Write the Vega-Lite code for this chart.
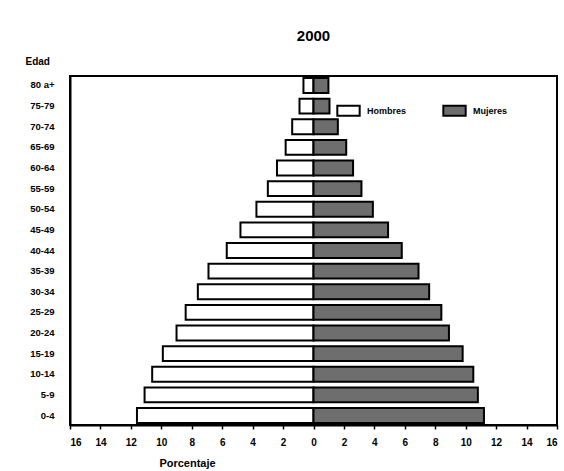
{
  "$schema": "https://vega.github.io/schema/vega-lite/v6.json",
  "autosize": "none",
  "width": 487,
  "height": 349,
  "padding": {"left": 70, "top": 76, "right": 7, "bottom": 46},
  "background": "white",
  "title": {"text": "2000", "font": "Liberation Sans", "fontSize": 15, "fontWeight": "bold", "color": "black", "anchor": "middle", "offset": 12},
  "config": {
    "view": {"stroke": "black", "strokeWidth": 2},
    "font": "Liberation Sans"
  },
  "data": {"values": [
    {"edad": "80 a+", "sexo": "Hombres", "pct": -0.66},
    {"edad": "75-79", "sexo": "Hombres", "pct": -0.92},
    {"edad": "70-74", "sexo": "Hombres", "pct": -1.4},
    {"edad": "65-69", "sexo": "Hombres", "pct": -1.83},
    {"edad": "60-64", "sexo": "Hombres", "pct": -2.4},
    {"edad": "55-59", "sexo": "Hombres", "pct": -3.0},
    {"edad": "50-54", "sexo": "Hombres", "pct": -3.75},
    {"edad": "45-49", "sexo": "Hombres", "pct": -4.8},
    {"edad": "40-44", "sexo": "Hombres", "pct": -5.7},
    {"edad": "35-39", "sexo": "Hombres", "pct": -6.9},
    {"edad": "30-34", "sexo": "Hombres", "pct": -7.6},
    {"edad": "25-29", "sexo": "Hombres", "pct": -8.4},
    {"edad": "20-24", "sexo": "Hombres", "pct": -9.0},
    {"edad": "15-19", "sexo": "Hombres", "pct": -9.9},
    {"edad": "10-14", "sexo": "Hombres", "pct": -10.6},
    {"edad": "5-9", "sexo": "Hombres", "pct": -11.1},
    {"edad": "0-4", "sexo": "Hombres", "pct": -11.6},
    {"edad": "80 a+", "sexo": "Mujeres", "pct": 0.98},
    {"edad": "75-79", "sexo": "Mujeres", "pct": 1.05},
    {"edad": "70-74", "sexo": "Mujeres", "pct": 1.6},
    {"edad": "65-69", "sexo": "Mujeres", "pct": 2.15},
    {"edad": "60-64", "sexo": "Mujeres", "pct": 2.6},
    {"edad": "55-59", "sexo": "Mujeres", "pct": 3.15},
    {"edad": "50-54", "sexo": "Mujeres", "pct": 3.9},
    {"edad": "45-49", "sexo": "Mujeres", "pct": 4.9},
    {"edad": "40-44", "sexo": "Mujeres", "pct": 5.8},
    {"edad": "35-39", "sexo": "Mujeres", "pct": 6.9},
    {"edad": "30-34", "sexo": "Mujeres", "pct": 7.6},
    {"edad": "25-29", "sexo": "Mujeres", "pct": 8.4},
    {"edad": "20-24", "sexo": "Mujeres", "pct": 8.9},
    {"edad": "15-19", "sexo": "Mujeres", "pct": 9.8},
    {"edad": "10-14", "sexo": "Mujeres", "pct": 10.5},
    {"edad": "5-9", "sexo": "Mujeres", "pct": 10.8},
    {"edad": "0-4", "sexo": "Mujeres", "pct": 11.2}
  ]},
  "mark": {"type": "bar", "stroke": "black", "strokeWidth": 2},
  "encoding": {
    "y": {
      "field": "edad", "type": "nominal",
      "sort": ["80 a+", "75-79", "70-74", "65-69", "60-64", "55-59", "50-54", "45-49", "40-44", "35-39", "30-34", "25-29", "20-24", "15-19", "10-14", "5-9", "0-4"],
      "scale": {"paddingInner": 0.28, "paddingOuter": 0.1},
      "axis": {
        "title": "Edad", "titleAngle": 0, "titleX": -45, "titleY": -12, "titleAlign": "left", "titleBaseline": "alphabetic",
        "titleFont": "Liberation Sans", "titleFontSize": 10, "titleFontWeight": "bold", "titleColor": "black",
        "ticks": false, "labelPadding": 16, "labelFontSize": 9.5, "labelFontWeight": "bold", "labelColor": "black",
        "domainColor": "black", "domainWidth": 2
      }
    },
    "x": {
      "field": "pct", "type": "quantitative",
      "scale": {"domain": [-16, 16], "nice": false},
      "axis": {
        "title": "Porcentaje", "titleX": 117, "titleY": 41, "titleAlign": "center", "titleBaseline": "alphabetic",
        "titleFontSize": 11, "titleFontWeight": "bold", "titleColor": "black",
        "values": [-16, -14, -12, -10, -8, -6, -4, -2, 0, 2, 4, 6, 8, 10, 12, 14, 16],
        "labelExpr": "abs(datum.value)", "labelFontSize": 10, "labelFontWeight": "bold", "labelColor": "black",
        "labelPadding": 8, "tickColor": "black", "tickSize": 4, "tickWidth": 1.5, "grid": false,
        "domainColor": "black", "domainWidth": 2
      }
    },
    "fill": {
      "field": "sexo", "type": "nominal",
      "scale": {"domain": ["Hombres", "Mujeres"], "range": ["white", "#6e6e6e"]},
      "legend": {
        "title": null, "orient": "none", "legendX": 266, "legendY": 22, "direction": "horizontal",
        "symbolType": "M-1,-0.45H1V0.45H-1Z", "symbolSize": 500, "symbolStrokeColor": "black", "symbolStrokeWidth": 2,
        "labelFontSize": 9, "labelFontWeight": "bold", "labelColor": "black", "columnPadding": 32, "labelOffset": 6
      }
    }
  }
}
